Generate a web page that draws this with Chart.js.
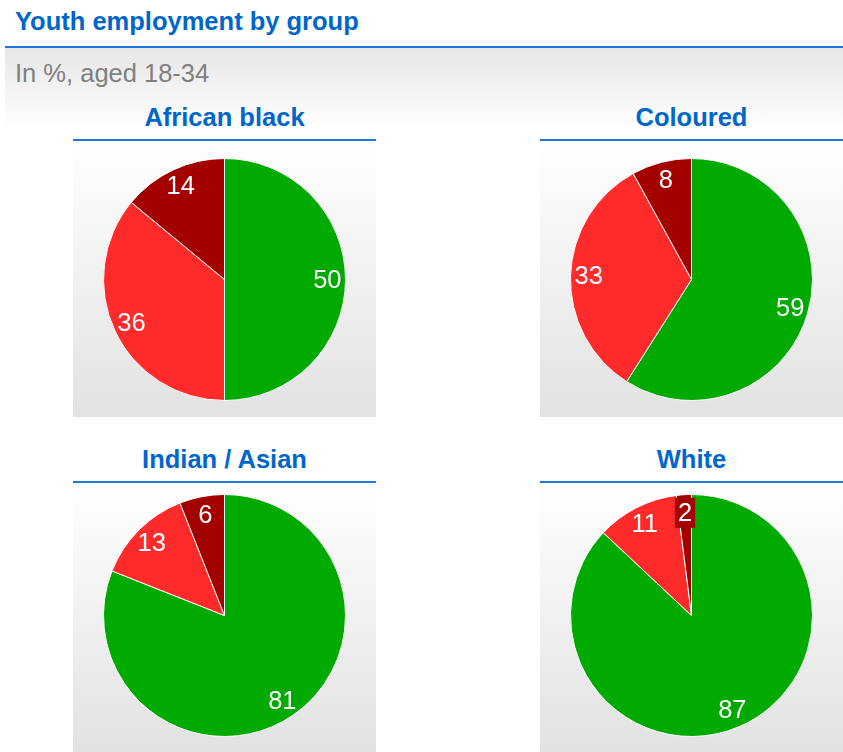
<!DOCTYPE html>
<html>
<head>
<meta charset="utf-8">
<title>Youth employment by group</title>
<script src="https://cdn.jsdelivr.net/npm/chart.js@4.4.1/dist/chart.umd.min.js"></script>
<style>
  html, body { margin: 0; padding: 0; background: #fff; }
  body { width: 843px; height: 752px; position: relative; overflow: hidden;
         font-family: "Liberation Sans", Arial, sans-serif; }
  #title { position: absolute; left: 15px; top: 6px; font-size: 25.5px; font-weight: bold;
           color: #0066cc; line-height: 30px; white-space: nowrap; }
  #rule { position: absolute; left: 5px; right: 0; top: 46px; height: 2px; background: #1e78dc; }
  #sub { position: absolute; left: 5px; right: 0; top: 48px; height: 80px;
         background: linear-gradient(#e6e6e6, #ffffff); }
  #sub span { position: absolute; left: 10px; top: 10px; font-size: 25.5px; color: #808080;
              line-height: 30px; white-space: nowrap; }
  .head { position: absolute; width: 303px; text-align: center; font-size: 25.5px;
          font-weight: bold; color: #0066cc; line-height: 30px; border-bottom: 2px solid #1e78dc;
          padding-bottom: 7px; }
  .panel { position: absolute; width: 303px; background: linear-gradient(#ffffff, #e2e2e2); }
  .panel canvas { display: block; }
</style>
</head>
<body>
<div id="sub"><span>In %, aged 18-34</span></div>
<div id="title">Youth employment by group</div>
<div id="rule"></div>

<script>
// groups and their shares (employed / unemployed / not economically active)
const groups = ['African black', 'Coloured', 'Indian / Asian', 'White']
const segments = ['Employed', 'Unemployed', 'Inactive']
const employed   = [50, 59, 81, 87]
const unemployed = [36, 33, 13, 11]
const inactive   = [14, 8, 6, 2]
const sliceColors = ['#00aa00', '#ff2a2a', '#a30000']

// where each little chart goes: [left, headTop, panelTop, panelHeight, padTop, padBottom]
const spots = [
    [73, 102, 142, 275, 16, 16],
    [540, 102, 142, 275, 16, 16],
    [73, 444, 484, 268, 10, 15],
    [540, 444, 484, 268, 10, 15]
]

// writes the value of every slice inside it
const sliceLabels = {
    id: 'sliceLabels',
    afterDatasetsDraw(chart) {
        let ctx = chart.ctx
        let meta = chart.getDatasetMeta(0)
        let values = chart.data.datasets[0].data
        ctx.save()
        ctx.font = '25.5px "Liberation Sans", Arial, sans-serif'
        ctx.textAlign = 'center'
        ctx.textBaseline = 'middle'
        meta.data.forEach(function (arc, i) {
            let mid = (arc.startAngle + arc.endAngle) / 2
            let r = arc.outerRadius * 0.85
            let x = arc.x + Math.cos(mid) * r
            let y = arc.y + Math.sin(mid) * r
            let text = String(values[i])
            // tiny slices get a box behind the number
            if (values[i] < 5) {
                let w = ctx.measureText(text).width + 6
                ctx.fillStyle = sliceColors[i]
                ctx.fillRect(x - w / 2, y - 15, w, 30)
            }
            ctx.fillStyle = '#ffffff'
            ctx.fillText(text, x, y + 1)
        })
        ctx.restore()
    }
}

for (let g = 0; g < groups.length; g++) {
    let s = spots[g]

    let head = document.createElement('div')
    head.className = 'head'
    head.style.left = s[0] + 'px'
    head.style.top = s[1] + 'px'
    head.textContent = groups[g]
    document.body.appendChild(head)

    let panel = document.createElement('div')
    panel.className = 'panel'
    panel.style.left = s[0] + 'px'
    panel.style.top = s[2] + 'px'
    panel.style.height = s[3] + 'px'
    let canvas = document.createElement('canvas')
    canvas.width = 303
    canvas.height = s[3]
    panel.appendChild(canvas)
    document.body.appendChild(panel)

    new Chart(canvas.getContext('2d'), {
        type: 'pie',
        data: {
            labels: segments,
            datasets: [{
                data: [employed[g], unemployed[g], inactive[g]],
                backgroundColor: sliceColors,
                borderColor: '#ffffff',
                borderWidth: 1
            }]
        },
        options: {
            responsive: false,
            animation: false,
            layout: { padding: { top: s[4], bottom: s[5] } },
            plugins: {
                legend: { display: false },
                tooltip: { enabled: false }
            }
        },
        plugins: [sliceLabels]
    })
}
</script>
</body>
</html>
